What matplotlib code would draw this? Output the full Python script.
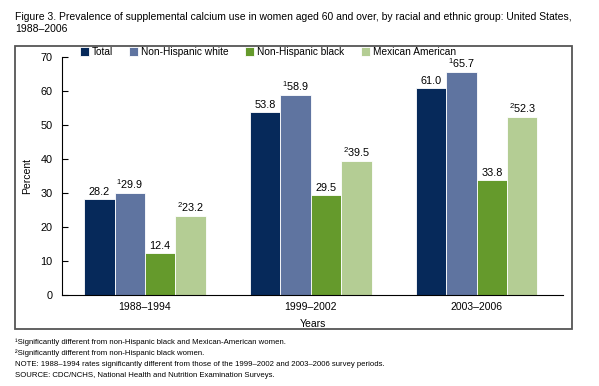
import numpy as np
import matplotlib
matplotlib.use("Agg")
import matplotlib.pyplot as plt
from matplotlib.patches import Rectangle

plt.rcParams['font.family'] = ['Liberation Sans', 'DejaVu Sans']
plt.rcParams['mathtext.fontset'] = 'custom'
plt.rcParams['mathtext.rm'] = 'Liberation Sans'

# ---------------- DATA ----------------
periods = ["1988\u20131994", "1999\u20132002", "2003\u20132006"]
series = ["Total", "Non-Hispanic white", "Non-Hispanic black", "Mexican American"]
total = [28.2, 53.8, 61.0]
nh_white = [29.9, 58.9, 65.7]
nh_black = [12.4, 29.5, 33.8]
mexican = [23.2, 39.5, 52.3]
# footnote markers per bar
marks_total = ["", "", ""]
marks_white = ["1", "1", "1"]
marks_black = ["", "", ""]
marks_mexican = ["2", "2", "2"]

colors = ["#06295a", "#5f74a0", "#659a2c", "#b4cd94"]

# ---------------- FIGURE ----------------
fig = plt.figure(figsize=(5.99, 3.86), dpi=100)
W, H = 599, 386
ax = fig.add_axes([62 / W, 1 - 295 / H, (563 - 62) / W, (295 - 57) / H])

x = np.arange(len(periods))
bw = 0.183
values = [total, nh_white, nh_black, mexican]
marks = [marks_total, marks_white, marks_black, marks_mexican]

for i, (vals, mk, col, name) in enumerate(zip(values, marks, colors, series)):
    pos = x + (i - 1.5) * bw
    ax.bar(pos, vals, width=bw, color=col, edgecolor="white", linewidth=0.6, label=name)
    for p, v, m in zip(pos, vals, mk):
        lbl = f"{v:.1f}" if not m else f"$^{{{m}}}${v:.1f}"
        ax.text(p, v + 0.6, lbl, ha="center", va="bottom", fontsize=7.8)

ax.set_xlim(-0.5, 2.52)
ax.set_ylim(0, 70)
ax.set_yticks(range(0, 71, 10))
ax.set_xticks(x)
ax.set_xticklabels(periods, fontsize=7.5)
ax.tick_params(axis="x", length=0, pad=5)
ax.tick_params(axis="y", direction="in", length=4, labelsize=7.8, pad=7)
ax.spines["top"].set_visible(False)
ax.spines["right"].set_visible(False)
ax.set_ylabel("Percent", fontsize=7.5, labelpad=6)
ax.set_xlabel("Years", fontsize=7.5, labelpad=5)

ax.legend(loc="lower left", bbox_to_anchor=(0.035, 1.0), ncol=4, frameon=False,
          fontsize=7.3, handlelength=0.9, handleheight=0.9, handletextpad=0.3,
          columnspacing=1.6, borderaxespad=0, borderpad=0)

# outer frame
fig.patches.append(Rectangle((15 / W, 1 - 329 / H), (572 - 15) / W, (329 - 46) / H,
                             transform=fig.transFigure, fill=False,
                             edgecolor="#555555", linewidth=1.3))

# title
fig.text(15 / W, 1 - 12 / H,
         "Figure 3. Prevalence of supplemental calcium use in women aged 60 and over, by racial and ethnic group: United States,\n1988\u20132006",
         ha="left", va="top", fontsize=7.5, linespacing=1.2)

# footnotes
notes = [
    "\u00b9Significantly different from non-Hispanic black and Mexican-American women.",
    "\u00b2Significantly different from non-Hispanic black women.",
    "NOTE: 1988\u20131994 rates significantly different from those of the 1999\u20132002 and 2003\u20132006 survey periods.",
    "SOURCE: CDC/NCHS, National Health and Nutrition Examination Surveys.",
]
for k, t in enumerate(notes):
    fig.text(15 / W, 1 - (342 + k * 11.3) / H, t, ha="left", va="center", fontsize=5.6)

fig.savefig("out.png", dpi=100)
